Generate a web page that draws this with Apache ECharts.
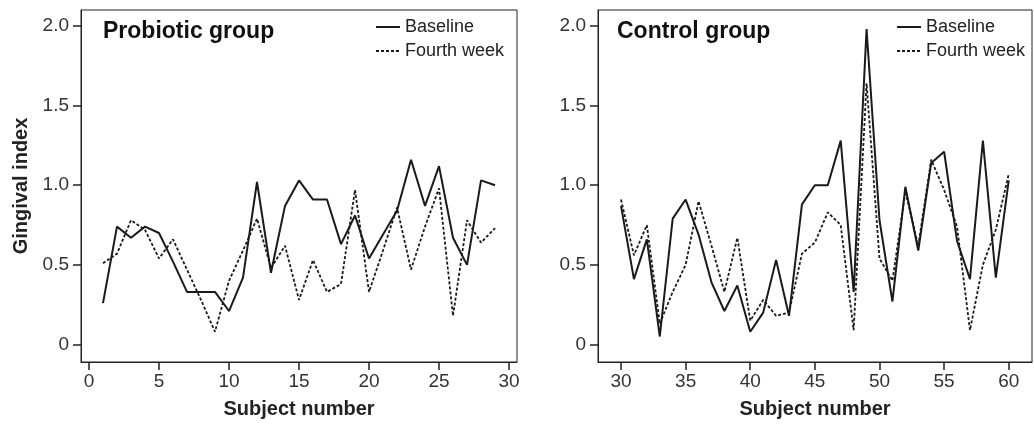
<!DOCTYPE html>
<html>
<head>
<meta charset="utf-8">
<script src="https://cdn.jsdelivr.net/npm/echarts@6/dist/echarts.min.js"></script>
<style>
  html, body { margin: 0; padding: 0; background: #fff; }
  #chart { width: 1034px; height: 427px; }
</style>
</head>
<body>
<div id="chart"></div>
<script>
// 数据
var probSubjects = [1, 2, 3, 4, 5, 6, 7, 8, 9, 10, 11, 12, 13, 14, 15, 16, 17, 18, 19, 20, 21, 22, 23, 24, 25, 26, 27, 28, 29]
var probBaseline = [0.26, 0.74, 0.67, 0.74, 0.70, 0.52, 0.33, 0.33, 0.33, 0.21, 0.42, 1.02, 0.45, 0.87, 1.03, 0.91, 0.91, 0.63, 0.81, 0.54, 0.69, 0.84, 1.16, 0.87, 1.12, 0.67, 0.50, 1.03, 1.00]
var probFourth = [0.51, 0.57, 0.78, 0.72, 0.54, 0.66, 0.47, 0.28, 0.08, 0.40, 0.59, 0.79, 0.48, 0.62, 0.28, 0.53, 0.33, 0.38, 0.97, 0.33, 0.59, 0.86, 0.47, 0.74, 0.98, 0.18, 0.78, 0.64, 0.73]

var ctrlSubjects = [30, 31, 32, 33, 34, 35, 36, 37, 38, 39, 40, 41, 42, 43, 44, 45, 46, 47, 48, 49, 50, 51, 52, 53, 54, 55, 56, 57, 58, 59, 60]
var ctrlBaseline = [0.87, 0.41, 0.66, 0.05, 0.79, 0.91, 0.69, 0.39, 0.21, 0.37, 0.08, 0.20, 0.53, 0.18, 0.88, 1.00, 1.00, 1.28, 0.33, 1.98, 0.78, 0.27, 0.99, 0.59, 1.14, 1.21, 0.65, 0.41, 1.28, 0.42, 1.03]
var ctrlFourth = [0.91, 0.56, 0.75, 0.13, 0.33, 0.50, 0.90, 0.62, 0.33, 0.67, 0.15, 0.28, 0.18, 0.20, 0.57, 0.64, 0.83, 0.75, 0.09, 1.64, 0.54, 0.40, 0.96, 0.62, 1.16, 0.97, 0.74, 0.09, 0.50, 0.72, 1.07]

var probTicks = [0, 5, 10, 15, 20, 25, 30]
var ctrlTicks = [30, 35, 40, 45, 50, 55, 60]
var yTicks = [0, 0.5, 1.0, 1.5, 2.0]

function pairs(xs, ys) {
  return xs.map(function (x, i) { return [x, ys[i]] })
}

var myChart = echarts.init(document.getElementById('chart'))

var fontFamily = '"Liberation Sans", Arial, sans-serif'
var axisColor = '#222'
var labelColor = '#333'
var lineColor = '#1a1a1a'

function xAxisOf(gridIndex, min, max, ticks) {
  return {
    type: 'value',
    gridIndex: gridIndex,
    min: min,
    max: max,
    name: 'Subject number',
    nameLocation: 'middle',
    nameGap: 37,
    nameTextStyle: { fontFamily: fontFamily, fontSize: 20, fontWeight: 'bold', color: '#222' },
    splitLine: { show: false },
    axisLine: { onZero: false, lineStyle: { color: axisColor, width: 1 } },
    axisTick: { customValues: ticks, length: 8, lineStyle: { color: axisColor, width: 1.5 } },
    axisLabel: { customValues: ticks, margin: 10, fontFamily: fontFamily, fontSize: 19, color: labelColor }
  }
}

function yAxisOf(gridIndex, withName) {
  return {
    type: 'value',
    gridIndex: gridIndex,
    min: -0.11,
    max: 2.1,
    name: withName ? 'Gingival index' : '',
    nameLocation: 'middle',
    nameGap: 50,
    nameTextStyle: { fontFamily: fontFamily, fontSize: 20, fontWeight: 'bold', color: '#222' },
    splitLine: { show: false },
    axisLine: { onZero: false, lineStyle: { color: axisColor, width: 1 } },
    axisTick: { customValues: yTicks, length: 8, lineStyle: { color: axisColor, width: 1.5 } },
    axisLabel: {
      customValues: yTicks,
      margin: 12,
      fontFamily: fontFamily,
      fontSize: 19,
      color: labelColor,
      formatter: function (v) { return v === 0 ? '0' : v.toFixed(1) }
    }
  }
}

function lineSeries(name, idx, data, dashed) {
  return {
    name: name,
    type: 'line',
    xAxisIndex: idx,
    yAxisIndex: idx,
    data: data,
    symbol: 'none',
    animation: false,
    itemStyle: { color: lineColor },
    lineStyle: dashed
      ? { color: lineColor, width: 1.8, type: [3, 2] }
      : { color: lineColor, width: 2 }
  }
}

function legendAt(left) {
  return {
    left: left,
    top: 18,
    orient: 'vertical',
    itemWidth: 24,
    itemHeight: 10,
    itemGap: 6,
    padding: 0,
    selectedMode: false,
    data: ['Baseline', 'Fourth week'],
    itemStyle: { opacity: 0 },
    textStyle: { fontFamily: fontFamily, fontSize: 18, color: '#222', padding: [0, 0, 0, 0] }
  }
}

var option = {
  backgroundColor: '#fff',
  animation: false,
  title: [
    { text: 'Probiotic group', left: 103, top: 20, padding: 0,
      textStyle: { fontFamily: fontFamily, fontSize: 23, fontWeight: 'bold', color: '#111' } },
    { text: 'Control group', left: 617, top: 20, padding: 0,
      textStyle: { fontFamily: fontFamily, fontSize: 23, fontWeight: 'bold', color: '#111' } }
  ],
  legend: [legendAt(375), legendAt(896)],
  grid: [
    { left: 81, top: 10, width: 436, height: 352, show: true, borderColor: axisColor, borderWidth: 1, outerBoundsMode: 'none' },
    { left: 598, top: 10, width: 434, height: 352, show: true, borderColor: axisColor, borderWidth: 1, outerBoundsMode: 'none' }
  ],
  xAxis: [
    xAxisOf(0, -0.57, 30.57, probTicks),
    xAxisOf(1, 28.22, 61.8, ctrlTicks)
  ],
  yAxis: [yAxisOf(0, true), yAxisOf(1, false)],
  series: [
    lineSeries('Baseline', 0, pairs(probSubjects, probBaseline), false),
    lineSeries('Fourth week', 0, pairs(probSubjects, probFourth), true),
    lineSeries('Baseline', 1, pairs(ctrlSubjects, ctrlBaseline), false),
    lineSeries('Fourth week', 1, pairs(ctrlSubjects, ctrlFourth), true)
  ]
}

myChart.setOption(option)
</script>
</body>
</html>
